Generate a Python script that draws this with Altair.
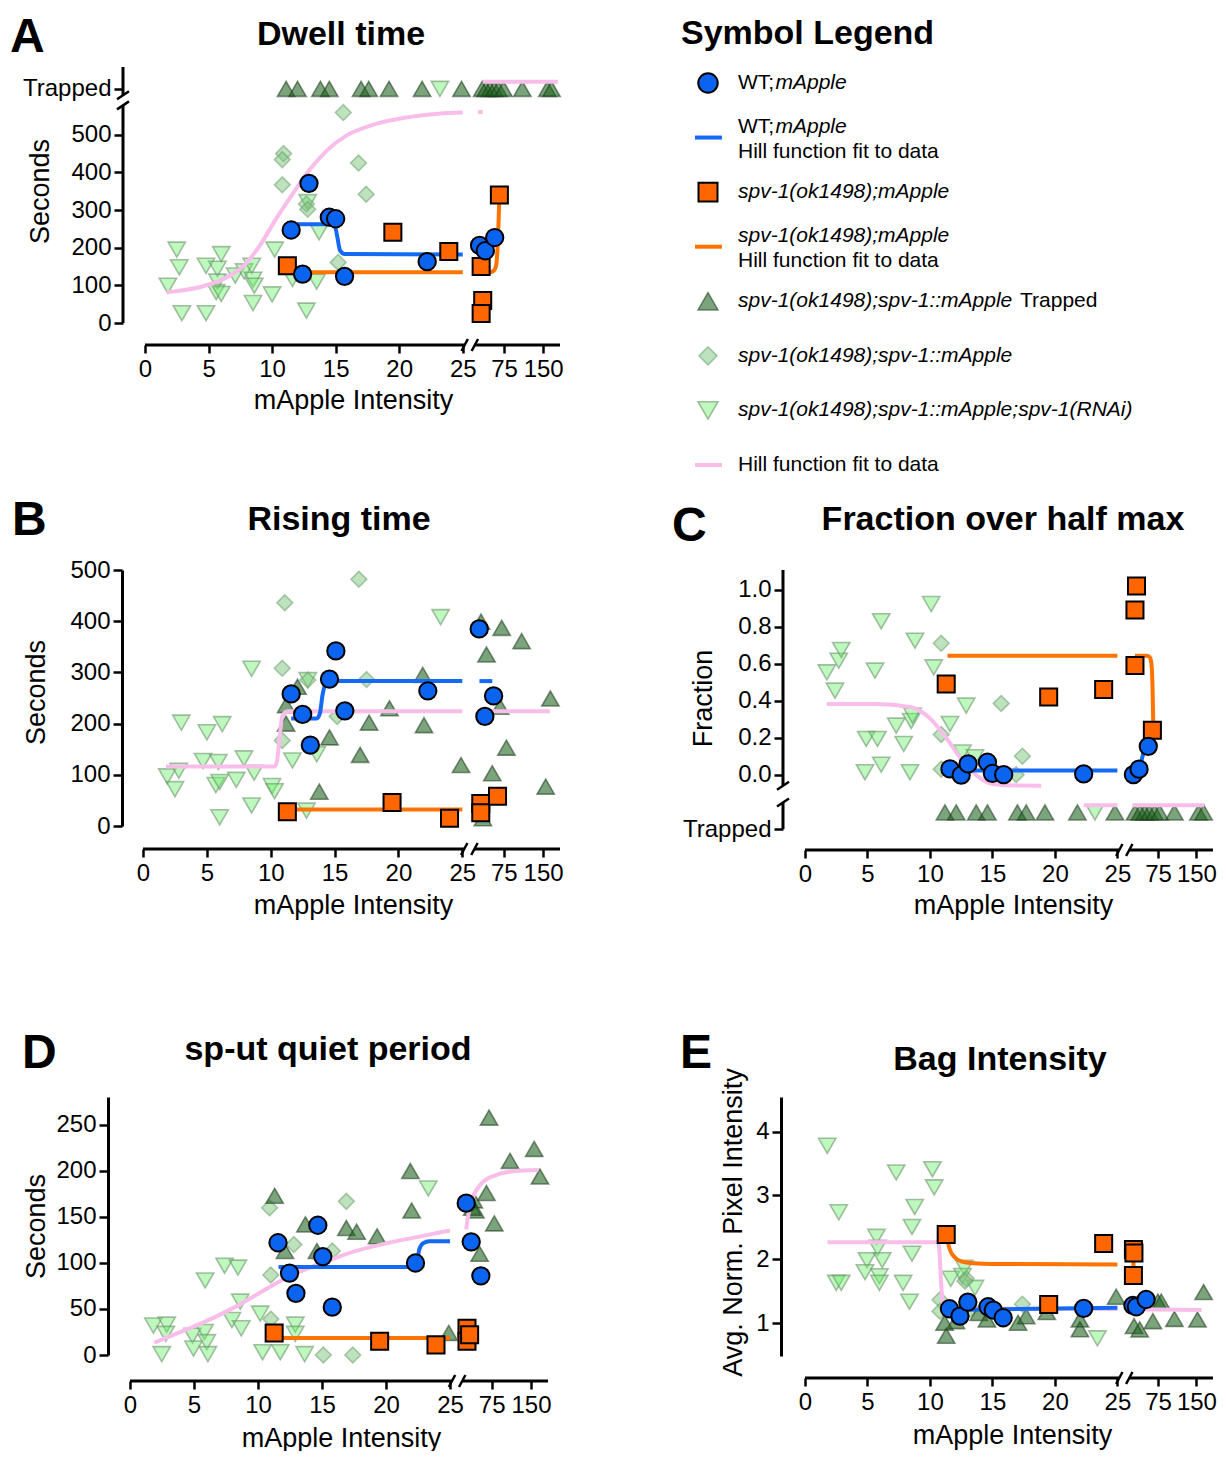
import altair as alt
import pandas as pd

# ===================== values =====================
# every point is (mApple intensity, value)
A_WT = [(11.5, 247), (12.4, 130), (12.9, 371), (14.5, 281), (15.0, 277), (15.7, 124),
        (22.2, 163), (28, 206), (39, 192), (57, 227)]
A_SPV = [(11.2, 152), (19.5, 241), (23.9, 190), (31, 150), (34, 60), (31, 25), (66, 340)]
A_RESC = [(15.6, 559), (10.9, 450), (10.8, 434), (10.8, 367), (16.8, 425), (17.4, 342),
          (12.7, 316), (12.8, 302), (15.2, 161)]
A_RNAI = [(1.8, 99), (2.5, 195), (2.7, 148), (2.9, 26), (4.8, 26), (4.8, 152), (5.7, 144),
          (6.0, 183), (5.7, 110), (5.6, 82), (6.0, 77), (7.1, 126), (7.8, 137), (8.4, 152),
          (8.5, 115), (8.6, 99), (8.5, 53), (10.0, 76), (10.2, 195), (11.6, 117), (13.5, 110),
          (12.7, 33), (12.8, 321), (13.7, 241)]
A_TRAPPED_X = [11.1, 12.0, 13.8, 14.5, 17.0, 17.6, 19.2, 21.8, 24.9,
               33, 40, 48, 56, 64, 74, 110, 158, 166]
A_RNAI_TRAPPED_X = [23.2]
A_FIT_WT = [("L", [(11.4, 262), (14.6, 262), (14.95, 255), (15.15, 225), (15.35, 192), (15.7, 183), (25, 182)]),
            ("R", [(25, 182), (36, 182)])]
A_FIT_SPV = [("L", [(12.3, 135), (25, 135)]),
             ("R", [(25, 135), (48, 135), (53, 137), (57, 142), (60, 155), (62.5, 200), (64.5, 270), (66, 340)])]
A_FIT_ALL = [("L", [(1.7, 82), (4.5, 97), (6.6, 124), (8.0, 160), (9.0, 204), (10.3, 276), (11.7, 347),
                    (13.0, 409), (14.3, 458), (15.9, 499), (17.8, 525), (20.4, 545), (23.1, 556), (25, 559)]),
             ("R", [(25, 560), (34, 561)])]
A_FIT_ALL_TRAPPED_X = [34, 178]

B_WT = [(11.6, 258), (12.5, 218), (13.1, 158), (14.6, 287), (15.1, 342), (15.8, 225), (22.3, 264),
        (28, 385), (38.8, 214), (55.5, 254)]
B_SPV = [(11.3, 28), (19.5, 46), (24.0, 15), (31, 44), (31, 26), (63, 58)]
B_TRAP = [(12.1, 272), (11.2, 236), (11.2, 200), (14.6, 173), (17.7, 202), (19.3, 230), (17.0, 139),
          (13.8, 67), (21.9, 295), (22.0, 197), (24.9, 119), (31.5, 399), (71, 387), (109, 361),
          (42, 335), (68, 233), (80, 153), (53, 103), (164, 249), (155, 77), (35, 15)]
B_RESC = [(11.1, 436), (16.9, 482), (10.9, 308), (12.9, 285), (17.5, 286), (15.2, 214), (10.9, 167)]
B_RNAI = [(1.9, 97), (2.5, 72), (2.8, 108), (3.0, 202), (4.7, 127), (5.0, 183), (6.2, 199), (5.9, 125),
          (5.7, 80), (6.0, 86), (6.0, 17), (7.3, 90), (7.9, 132), (8.5, 40), (8.7, 104), (8.5, 307),
          (10.1, 78), (10.3, 68), (11.7, 128), (12.8, 30), (13.6, 140), (12.9, 285), (23.3, 408)]
B_FIT_WT = [("L", [(11.6, 210), (13.6, 210), (13.85, 220), (14.05, 255), (14.3, 278), (14.7, 283), (25, 283)]),
            ("R", [(28.5, 283), (53, 283)])]
B_FIT_SPV = [("L", [(11.3, 32), (25, 32)])]
B_FIT_ALL = [("L", [(1.8, 116), (10.3, 116), (10.5, 128), (10.7, 175), (10.9, 214), (11.3, 224), (25, 224)]),
             ("R", [(25, 224), (163, 224)])]

C_WT = [(11.6, 0.031), (12.5, -0.002), (13.05, 0.058), (14.6, 0.067), (15.0, 0.007), (15.9, 0.0),
        (22.3, 0.004), (27, 0.0), (38, 0.03), (56, 0.153)]
C_SPV = [(11.3, 0.49), (19.5, 0.42), (23.9, 0.46), (33, 1.02), (30, 0.89), (30, 0.59), (64, 0.24)]
C_RESC = [(10.9, 0.71), (15.7, 0.385), (10.9, 0.217), (17.4, 0.10), (10.9, 0.03), (16.9, 0.0)]
C_RNAI = [(1.75, 0.553), (2.4, 0.454), (2.7, 0.616), (2.9, 0.674), (5.6, 0.562), (6.1, 0.829),
          (4.9, 0.193), (5.8, 0.193), (6.1, 0.054), (4.8, 0.013), (7.3, 0.265), (7.9, 0.166),
          (8.5, 0.29), (8.6, 0.319), (8.4, 0.013), (8.8, 0.724), (10.1, 0.922), (10.3, 0.58),
          (11.6, 0.274), (12.9, 0.373), (12.6, 0.12), (13.6, 0.094)]
C_TRAPPED_X = [11.2, 12.1, 13.7, 14.6, 17.0, 17.7, 19.2, 21.8, 24.8,
               30, 40, 49, 58, 68, 78, 107, 154, 164]
C_RNAI_TRAPPED_X = [23.2]
C_FIT_WT = [("L", [(11.6, 0.022), (25, 0.022)]),
            ("R", [(26, 0.02), (37, 0.025), (40, 0.04), (44, 0.09), (49, 0.135), (56, 0.153)])]
C_FIT_SPV = [("L", [(11.4, 0.643), (25, 0.643)]),
             ("R", [(30, 0.643), (52, 0.643), (58, 0.638), (61, 0.62), (63, 0.57), (64.5, 0.45),
                    (65.5, 0.3), (66, 0.24)])]
C_FIT_ALL = [("L", [(1.75, 0.382), (5.65, 0.382), (8.5, 0.364), (9.9, 0.31), (11.3, 0.2), (12.4, 0.094),
                    (13.6, 0.004), (15.0, -0.05), (16.9, -0.059), (18.9, -0.06)])]
C_FIT_ALL_TRAPPED = [("L", [22.3, 25]), ("R", [25, 165])]

D_WT = [(11.56, 122), (12.46, 89), (12.96, 67), (14.67, 141), (15.06, 107), (15.8, 52), (22.3, 100),
        (26.5, 165), (36, 123), (54.4, 86)]
D_SPV = [(11.26, 24), (19.5, 15), (23.9, 11), (28, 29), (28, 15), (33, 22)]
D_TRAP = [(11.3, 173), (12.1, 113), (13.7, 142), (14.6, 113), (16.9, 138), (17.7, 134), (19.3, 129),
          (21.9, 200), (22.0, 157), (24.9, 24), (70, 258), (110, 211), (156, 224), (167, 194),
          (41, 168), (44, 157), (65, 176), (80, 143), (52, 110), (38, 160)]
D_RESC = [(10.9, 160), (16.9, 167), (12.8, 120), (15.8, 113), (11.0, 87), (15.1, 0), (17.4, 0), (11.0, 39)]
D_RNAI = [(1.83, 32), (2.87, 33), (2.79, 23), (2.48, 1), (4.88, 21), (4.96, 7), (5.82, 25), (6.0, 14),
          (6.08, 1), (5.87, 81), (7.39, 97), (8.43, 95), (8.61, 58), (7.96, 38), (8.69, 29), (10.17, 45),
          (10.36, 3), (11.74, 3), (12.91, 33), (12.91, 23), (13.64, 1), (23.3, 181)]
D_FIT_WT = [("L", [(11.6, 95.6), (22.3, 95.6), (22.45, 103), (22.6, 115), (22.9, 121.5), (23.4, 123.5), (25, 123.7)])]
D_FIT_SPV = [("L", [(11.3, 18.5), (25, 18.5)])]
D_FIT_ALL = [("L", [(1.9, 13.3), (4.57, 28.6), (6.39, 39.6), (8.48, 54.2), (10.3, 68.9), (12.4, 85.3),
                    (15.0, 99.9), (17.6, 112.8), (20.2, 121.9), (22.8, 129.2), (25, 135.4)]),
             ("R", [(26.4, 136.5), (30.9, 153), (39.2, 171), (55.1, 186), (80.8, 195), (112.9, 199.4), (164, 201)])]

E_WT = [(11.56, 1.229), (12.4, 1.114), (13.03, 1.333), (14.65, 1.26), (15.07, 1.208), (15.86, 1.088),
        (22.3, 1.234), (26, 1.28), (32.7, 1.26), (51.7, 1.374)]
E_SPV = [(11.3, 2.39), (19.5, 1.296), (23.9, 2.248), (27, 2.154), (28, 2.10), (27, 1.749)]
E_TRAP = [(11.17, 1.009), (11.3, 0.806), (12.08, 1.035), (13.91, 1.163), (14.56, 1.061), (17.05, 1.009),
          (17.7, 1.112), (19.35, 1.178), (22.0, 1.06), (22.0, 0.908), (24.9, 1.417), (28.2, 0.958),
          (39.2, 0.907), (65, 1.035), (74.7, 1.341), (81.2, 1.341), (107, 1.07), (152, 1.06), (164, 1.49)]
E_RESC = [(10.8, 1.37), (10.8, 1.19), (12.9, 1.70), (12.8, 1.66), (17.4, 1.30), (14.9, 1.27), (13.2, 1.22)]
E_RNAI = [(1.78, 3.777), (2.7, 2.737), (7.3, 3.36), (10.2, 3.41), (10.34, 3.127), (8.78, 2.82), (8.56, 2.508),
          (5.72, 2.352), (5.81, 2.18), (4.96, 1.988), (6.18, 1.988), (4.8, 1.80), (5.95, 1.738), (5.95, 1.634),
          (2.5, 1.634), (2.9, 1.634), (7.85, 1.634), (8.36, 1.338), (8.56, 2.09), (11.67, 1.697),
          (12.75, 1.868), (13.6, 1.556), (23.4, 0.766), (12.6, 1.74)]
E_FIT_WT = [("L", [(11.6, 1.21), (25, 1.245)])]
E_FIT_SPV = [("L", [(11.4, 2.30), (11.6, 2.15), (11.9, 2.05), (12.5, 1.97), (13.5, 1.94), (15, 1.93), (25, 1.92)]),
             ("R", [(26.8, 2.12), (27.2, 1.84)])]
E_FIT_ALL = [("L", [(1.8, 2.27), (10.6, 2.27), (10.72, 2.2), (10.82, 1.9), (10.92, 1.55), (11.05, 1.3),
                    (11.3, 1.23), (25, 1.225)]),
             ("R", [(28, 1.22), (160, 1.21)])]

PANEL_LETTERS = ["A", "B", "C", "D", "E"]
PANEL_TITLES = ["Dwell time", "Rising time", "Fraction over half max", "sp-ut quiet period", "Bag Intensity"]
Y_TITLES = ["Seconds", "Seconds", "Fraction", "Seconds", "Avg. Norm. Pixel Intensity"]
X_TITLE = "mApple Intensity"
TRAPPED_LABEL = "Trapped"
LEFT_TICKS = [0, 5, 10, 15, 20, 25]
RIGHT_TICKS = [75, 150]
A_Y_TICKS = [0, 100, 200, 300, 400, 500]
B_Y_TICKS = [0, 100, 200, 300, 400, 500]
C_Y_TICKS = [0.0, 0.2, 0.4, 0.6, 0.8, 1.0]
D_Y_TICKS = [0, 50, 100, 150, 200, 250]
E_Y_TICKS = [1, 2, 3, 4]

LEGEND_TITLE = "Symbol Legend"
# (row, text, italic)
LEGEND_TEXT = [
    (0, "WT;", False), (0, "mApple", True),
    (1, "WT;", False), (1, "mApple", True), (1, "Hill function fit to data", False),
    (2, "spv-1(ok1498);mApple", True),
    (3, "spv-1(ok1498);mApple", True), (3, "Hill function fit to data", False),
    (4, "spv-1(ok1498);spv-1::mApple", True), (4, "Trapped", False),
    (5, "spv-1(ok1498);spv-1::mApple", True),
    (6, "spv-1(ok1498);spv-1::mApple;spv-1(RNAi)", True),
    (7, "Hill function fit to data", False),
]
LEGEND_SYMBOLS = [(0, "wt"), (2, "spv"), (4, "trap"), (5, "resc"), (6, "rnai")]
LEGEND_LINES = [(1, "blue"), (3, "orange"), (7, "pink")]

# ===================== broken x axis (two segments) =====================
SEG_END = 25.0
GAP = 1.2
K = 0.041
U_END = 32.65
BREAK_L = 25.15
BREAK_R = 25.95


def u_right(x):
    return SEG_END + GAP + (x - SEG_END) * K


def u(x):
    return x if x <= SEG_END else u_right(x)


XT_VALUES = [float(t) for t in LEFT_TICKS] + [u_right(t) for t in RIGHT_TICKS]
XT_EXPR = "datum.label"
for t in RIGHT_TICKS[::-1]:
    XT_EXPR = f"abs(datum.value - {u_right(t)}) < 0.01 ? '{t}' : ({XT_EXPR})"

# ===================== styles =====================
FONT = "Liberation Sans"
STYLE = {
    "rnai": dict(shape="triangle-down", fill="#66EE66", fillOpacity=0.42, stroke="#6E946E",
                 strokeOpacity=0.6, strokeWidth=1.6, size=300),
    "resc": dict(shape="diamond", fill="#7DC47D", fillOpacity=0.5, stroke="#6FA06F",
                 strokeOpacity=0.55, strokeWidth=1.6, size=250),
    "trap": dict(shape="triangle-up", fill="#1E631E", fillOpacity=0.58, stroke="#1E3A1E",
                 strokeOpacity=0.55, strokeWidth=1.6, size=300),
    "spv": dict(shape="square", fill="#FF6600", fillOpacity=1, stroke="#000000", strokeWidth=2, size=290),
    "wt": dict(shape="circle", fill="#0A64F0", fillOpacity=1, stroke="#000000", strokeWidth=2, size=300),
}
LEGEND_SIZE = {"wt": 380, "spv": 360, "trap": 400, "resc": 330, "rnai": 400}
LINE_COLOR = {"pink": "#F9BDEA", "orange": "#FF7300", "blue": "#146AF5"}
LINE_W = 4
AXIS_W = 3

LAYOUT = {
    "A": dict(W=430, H=256, xmin=-1.18, ydom=[0, 680], yoff=7, xoff=22,
              ytitle=(-83, 124), xtitle=(223, 55), letter=(-120, -15), title=(211, -22)),
    "B": dict(W=430, H=256, xmin=-1.02, ydom=[0, 500], yoff=8, xoff=23,
              ytitle=(-86, 122), xtitle=(223, 56), letter=(-118, -35), title=(209, -40)),
    "C": dict(W=410, H=280, xmin=-0.16, ydom=[-0.407, 1.106], yoff=20, xoff=0,
              ytitle=(-80, 128), xtitle=(210, 55), letter=(-131, -29), title=(200, -40)),
    "D": dict(W=418, H=258, xmin=0.0, ydom=[0, 280.4], yoff=22, xoff=26,
              ytitle=(-72, 129), xtitle=(211, 57), letter=(-108, -29), title=(198, -37)),
    "E": dict(W=410, H=259, xmin=-0.16, ydom=[0.49, 4.54], yoff=22, xoff=22,
              ytitle=(-48, 125), xtitle=(209, 57), letter=(-123, -29), title=(197, -27)),
}


def pts_df(pairs):
    return pd.DataFrame({"u": [u(x) for x, _ in pairs], "v": [y for _, y in pairs]})


def point_layer(pairs, key, X, Y):
    return alt.Chart(pts_df(pairs)).mark_point(filled=True, opacity=1, **STYLE[key]).encode(x=X, y=Y)


def line_layer(segments, color, X, Y):
    rows = []
    for k, (side, seg) in enumerate(segments):
        for x, y in seg:
            rows.append({"u": (x if side == "L" else u_right(x)), "v": y, "seg": k})
    return alt.Chart(pd.DataFrame(rows)).mark_line(
        color=LINE_COLOR[color], strokeWidth=LINE_W, interpolate="monotone", strokeCap="butt"
    ).encode(x=X, y=Y, detail="seg:N")


def text_layer(txt, pos, size, bold=True, align="left"):
    return alt.Chart(pd.DataFrame({"t": [txt]})).mark_text(
        align=align, baseline="alphabetic", fontSize=size, font=FONT,
        fontWeight="bold" if bold else "normal", color="black"
    ).encode(text="t:N", x=alt.value(pos[0]), y=alt.value(pos[1]))


def panel(key, idx, data, yticks, ylabel_expr=None, yfmt=None, ybreaks=None):
    L = LAYOUT[key]
    W, H = L["W"], L["H"]
    ppu_x = W / (U_END - L["xmin"])
    ppu_y = H / (L["ydom"][1] - L["ydom"][0])
    xs = alt.Scale(domain=[L["xmin"], U_END], nice=False, zero=False)
    ys = alt.Scale(domain=L["ydom"], nice=False, zero=False)
    xaxis = dict(values=XT_VALUES, labelExpr=XT_EXPR, domain=False, grid=False,
                 tickSize=8, tickWidth=2.5, tickColor="black", labelFontSize=24, labelColor="black",
                 labelFont=FONT, labelPadding=4, labelFlush=False, labelOverlap=False,
                 offset=L["xoff"], title=X_TITLE, titleFontSize=27, titleFont=FONT,
                 titleFontWeight="normal", titleColor="black", titleX=L["xtitle"][0],
                 titleY=L["xtitle"][1], titleBaseline="middle", titleAlign="center")
    yargs = dict(values=yticks, domain=ybreaks is None, domainWidth=AXIS_W, domainColor="black",
                 grid=False, tickSize=9, tickWidth=2.5, tickColor="black", labelFontSize=24,
                 labelColor="black", labelFont=FONT, labelPadding=3, labelFlush=False,
                 labelOverlap=False, offset=L["yoff"], title=Y_TITLES[idx], titleFontSize=27,
                 titleFont=FONT, titleFontWeight="normal", titleColor="black",
                 titleX=L["ytitle"][0], titleY=L["ytitle"][1], titleBaseline="middle",
                 titleAlign="center", titleAngle=270)
    if ylabel_expr:
        yargs["labelExpr"] = ylabel_expr
    if yfmt:
        yargs["format"] = yfmt
    X = alt.X("u:Q", scale=xs, axis=alt.Axis(**xaxis))
    Y = alt.Y("v:Q", scale=ys, axis=alt.Axis(**yargs))

    layers = []
    layers.append(point_layer(data["rnai"], "rnai", X, Y))
    layers.append(point_layer(data["resc"], "resc", X, Y))
    layers.append(point_layer(data["trap"], "trap", X, Y))
    for segs in data.get("pink_extra", []):
        layers.append(line_layer(segs, "pink", X, Y))
    layers.append(line_layer(data["fit_all"], "pink", X, Y))
    layers.append(line_layer(data["fit_spv"], "orange", X, Y))
    layers.append(line_layer(data["fit_wt"], "blue", X, Y))
    layers.append(point_layer(data["spv"], "spv", X, Y))
    layers.append(point_layer(data["wt"], "wt", X, Y))

    # x axis drawn as two segments with break marks
    yb = H + L["xoff"]
    seg = pd.DataFrame({"u": [0.0, BREAK_R], "u2": [BREAK_L, U_END]})
    layers.append(alt.Chart(seg).mark_rule(color="black", strokeWidth=AXIS_W, strokeCap="butt")
                  .encode(x=X, x2="u2:Q", y=alt.value(yb)))
    d = 3.2 / ppu_x
    sl = pd.DataFrame({"u": [BREAK_L - d, BREAK_R - d], "u2": [BREAK_L + d, BREAK_R + d]})
    layers.append(alt.Chart(sl).mark_rule(color="black", strokeWidth=2.5)
                  .encode(x=X, x2="u2:Q", y=alt.value(yb + 6), y2=alt.value(yb - 6)))

    # broken y axis
    if ybreaks is not None:
        lo_end, hi_start = ybreaks
        yseg = pd.DataFrame({"v": [L["ydom"][0] if key != "C" else -0.294, hi_start],
                             "v2": [lo_end, L["ydom"][1]]})
        layers.append(alt.Chart(yseg).mark_rule(color="black", strokeWidth=AXIS_W, strokeCap="butt")
                      .encode(y=Y, y2="v2:Q", x=alt.value(-L["yoff"])))
        dy = 4 / ppu_y
        ysl = pd.DataFrame({"v": [lo_end - dy, hi_start - dy], "v2": [lo_end + dy, hi_start + dy]})
        layers.append(alt.Chart(ysl).mark_rule(color="black", strokeWidth=2.5)
                      .encode(y=Y, y2="v2:Q", x=alt.value(-L["yoff"] - 6), x2=alt.value(-L["yoff"] + 6)))

    layers.append(text_layer(PANEL_LETTERS[idx], L["letter"], 48))
    layers.append(text_layer(PANEL_TITLES[idx], L["title"], 34, align="center"))
    return alt.layer(*layers).properties(width=W, height=H)


A_TRAP_LEVEL, A_TRAP_FIT = 622, 641
C_TRAP_LEVEL, C_TRAP_FIT, C_TRAP_TICK = -0.204, -0.165, -0.294

pA = panel("A", 0, dict(
    wt=A_WT, spv=A_SPV, resc=A_RESC,
    rnai=A_RNAI + [(x, A_TRAP_LEVEL) for x in A_RNAI_TRAPPED_X],
    trap=[(x, A_TRAP_LEVEL) for x in A_TRAPPED_X],
    fit_wt=A_FIT_WT, fit_spv=A_FIT_SPV, fit_all=A_FIT_ALL,
    pink_extra=[[("R", [(A_FIT_ALL_TRAPPED_X[0], A_TRAP_FIT), (A_FIT_ALL_TRAPPED_X[1], A_TRAP_FIT)])]],
), A_Y_TICKS + [A_TRAP_LEVEL], ylabel_expr=f"datum.value > 600 ? '{TRAPPED_LABEL}' : datum.label",
    ybreaks=(578, 605))

pB = panel("B", 1, dict(
    wt=B_WT, spv=B_SPV, resc=B_RESC, rnai=B_RNAI, trap=B_TRAP,
    fit_wt=B_FIT_WT, fit_spv=B_FIT_SPV, fit_all=B_FIT_ALL,
), B_Y_TICKS)

pC = panel("C", 2, dict(
    wt=C_WT, spv=C_SPV, resc=C_RESC,
    rnai=C_RNAI + [(x, C_TRAP_LEVEL) for x in C_RNAI_TRAPPED_X],
    trap=[(x, C_TRAP_LEVEL) for x in C_TRAPPED_X],
    fit_wt=C_FIT_WT, fit_spv=C_FIT_SPV, fit_all=C_FIT_ALL,
    pink_extra=[[(side, [(xs[0], C_TRAP_FIT), (xs[1], C_TRAP_FIT)]) for side, xs in C_FIT_ALL_TRAPPED]],
), C_Y_TICKS + [C_TRAP_TICK], ylabel_expr=f"datum.value < -0.1 ? '{TRAPPED_LABEL}' : datum.label",
    yfmt=".1f", ybreaks=(-0.15, -0.06))

pD = panel("D", 3, dict(
    wt=D_WT, spv=D_SPV, resc=D_RESC, rnai=D_RNAI, trap=D_TRAP,
    fit_wt=D_FIT_WT, fit_spv=D_FIT_SPV, fit_all=D_FIT_ALL,
), D_Y_TICKS)

pE = panel("E", 4, dict(
    wt=E_WT, spv=E_SPV, resc=E_RESC, rnai=E_RNAI, trap=E_TRAP,
    fit_wt=E_FIT_WT, fit_spv=E_FIT_SPV, fit_all=E_FIT_ALL,
), E_Y_TICKS)

# ===================== legend panel =====================
LEG_W, LEG_H = 410, 256
leg_scale = alt.Scale(domain=[-0.293, 4.398], reverse=True, nice=False, zero=False)
LY = alt.Y("i:Q", scale=leg_scale, axis=None)
SYM_X, LINE_X0, LINE_X1, TXT_X = -95, -108, -81, -65
WT_DX = 37.5
TRAPPED_DX = 282
legend_layers = [text_layer(LEGEND_TITLE, (-122, -23), 34)]
for i, key in LEGEND_SYMBOLS:
    st = dict(STYLE[key])
    st["size"] = LEGEND_SIZE[key]
    legend_layers.append(alt.Chart(pd.DataFrame({"i": [i]})).mark_point(filled=True, opacity=1, **st)
                         .encode(x=alt.value(SYM_X), y=LY))
for i, col in LEGEND_LINES:
    legend_layers.append(alt.Chart(pd.DataFrame({"i": [i]})).mark_rule(
        color=LINE_COLOR[col], strokeWidth=LINE_W, strokeCap="butt")
        .encode(x=alt.value(LINE_X0), x2=alt.value(LINE_X1), y=LY))
two_line_rows = {1, 3}
groups = {}
for row, (i, txt, ital) in enumerate(LEGEND_TEXT):
    dy = 0
    if i in two_line_rows:
        dy = 14 if txt.startswith("Hill") else -11
    dx = 0
    if txt == "mApple":
        dx = WT_DX
    if txt == "Trapped":
        dx = TRAPPED_DX
    groups.setdefault((ital, dx, dy), []).append((i, txt))
for (ital, dx, dy), items in groups.items():
    df = pd.DataFrame({"i": [a for a, _ in items], "t": [b for _, b in items]})
    legend_layers.append(alt.Chart(df).mark_text(
        align="left", baseline="middle", fontSize=21, font=FONT, dx=dx, dy=dy,
        fontStyle="italic" if ital else "normal", color="black")
        .encode(x=alt.value(TXT_X), y=LY, text="t:N"))
pL = alt.layer(*legend_layers).properties(width=LEG_W, height=LEG_H)

chart = alt.concat(pA, pL, pB, pC, pD, pE, columns=2,
                   spacing={"row": 247, "column": 243}, bounds="flush").properties(
    padding={"left": 2, "top": 6, "right": 0, "bottom": 0}
).configure(font=FONT).configure_view(stroke=None)

chart.save("out.html", embed_options={"renderer": "svg", "actions": False})
